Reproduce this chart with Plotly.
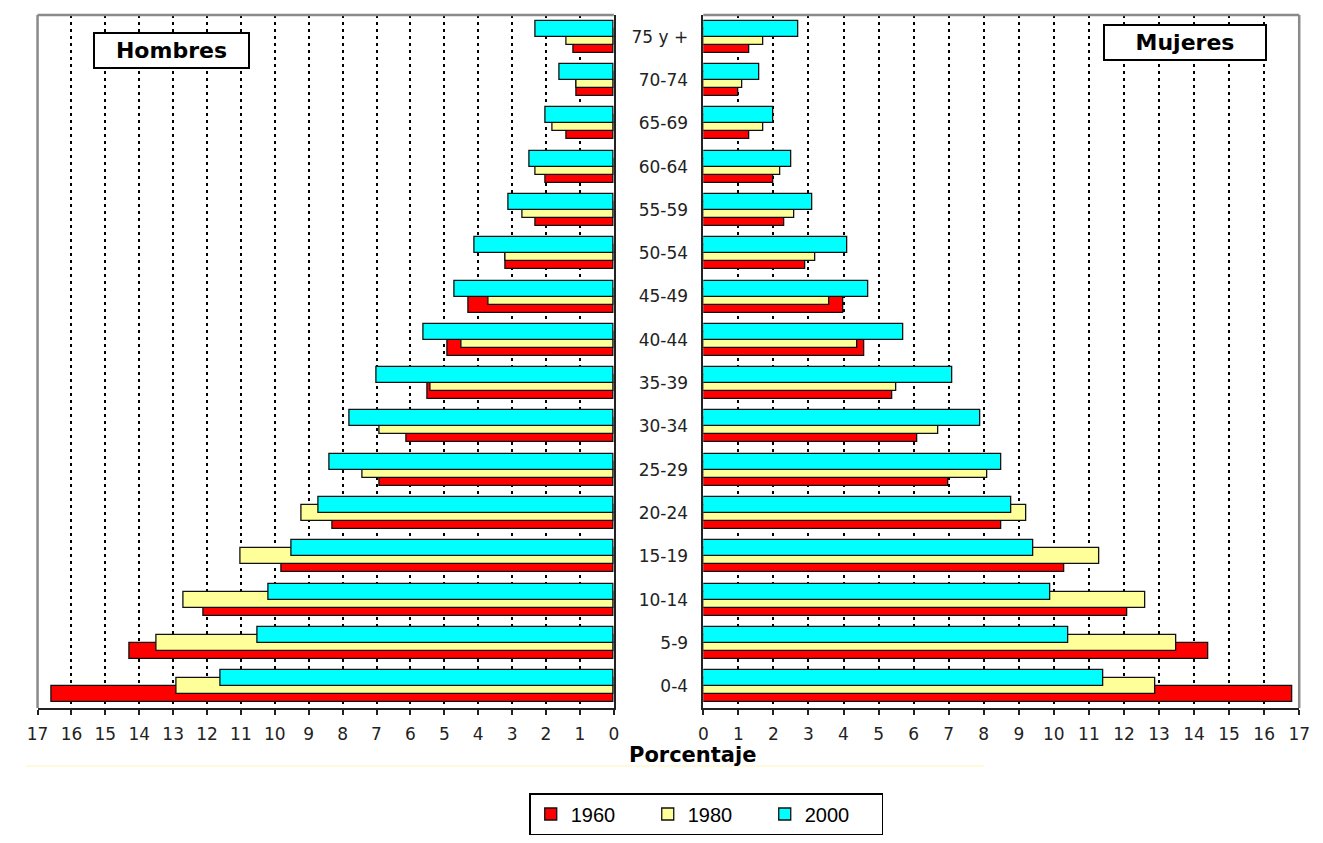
import plotly.graph_objects as go

categories = ['0-4', '5-9', '10-14', '15-19', '20-24', '25-29', '30-34', '35-39',
              '40-44', '45-49', '50-54', '55-59', '60-64', '65-69', '70-74', '75 y +']
years = ['1960', '1980', '2000']

men_1960 = [16.6, 14.3, 12.1, 9.8, 8.3, 6.9, 6.1, 5.5, 4.9, 4.3, 3.2, 2.3, 2.0, 1.4, 1.1, 1.2]
men_1980 = [12.9, 13.5, 12.7, 11.0, 9.2, 7.4, 6.9, 5.4, 4.5, 3.7, 3.2, 2.7, 2.3, 1.8, 1.1, 1.4]
men_2000 = [11.6, 10.5, 10.2, 9.5, 8.7, 8.4, 7.8, 7.0, 5.6, 4.7, 4.1, 3.1, 2.5, 2.0, 1.6, 2.3]

women_1960 = [16.8, 14.4, 12.1, 10.3, 8.5, 7.0, 6.1, 5.4, 4.6, 4.0, 2.9, 2.3, 2.0, 1.3, 1.0, 1.3]
women_1980 = [12.9, 13.5, 12.6, 11.3, 9.2, 8.1, 6.7, 5.5, 4.4, 3.6, 3.2, 2.6, 2.2, 1.7, 1.1, 1.7]
women_2000 = [11.4, 10.4, 9.9, 9.4, 8.8, 8.5, 7.9, 7.1, 5.7, 4.7, 4.1, 3.1, 2.5, 2.0, 1.6, 2.7]

tick_vals = list(range(0, 18))

colors = {'1960': '#FF0000', '1980': '#FFFF99', '2000': '#00FFFF'}
offsets = {'1960': -0.37, '1980': -0.185, '2000': 0.0}
bar_w = 0.37

men = {'1960': men_1960, '1980': men_1980, '2000': men_2000}
women = {'1960': women_1960, '1980': women_1980, '2000': women_2000}

W, H = 1323, 843

def px(v):
    return v / W

def py(v):
    return (H - v) / H

fig = go.Figure()
for yr in years:
    fig.add_trace(go.Bar(
        y=categories, x=men[yr], orientation='h', name=yr, legendgroup=yr,
        xaxis='x', yaxis='y', width=bar_w, offset=offsets[yr],
        marker=dict(color=colors[yr], line=dict(color='#111111', width=1.3)),
        showlegend=True))
for yr in years:
    fig.add_trace(go.Bar(
        y=categories, x=women[yr], orientation='h', name=yr, legendgroup=yr,
        xaxis='x2', yaxis='y2', width=bar_w, offset=offsets[yr],
        marker=dict(color=colors[yr], line=dict(color='#111111', width=1.3)),
        showlegend=False))

tickfont = dict(family='DejaVu Sans', size=17, color='#222222')
common_x = dict(tickmode='array', tickvals=tick_vals, ticktext=[str(v) for v in tick_vals],
                showgrid=True, gridcolor='#000000', gridwidth=2, griddash='3px,4px',
                showline=True, linecolor='#222222', linewidth=1.5,
                ticks='outside', ticklen=5, tickcolor='#222222', tickwidth=1.5,
                ticklabelstandoff=5, zeroline=False, tickfont=tickfont, fixedrange=True)

border = dict(color='#8a8a8a', width=2.5)

fig.update_layout(
    width=W, height=H,
    margin=dict(l=0, r=0, t=0, b=0),
    paper_bgcolor='white', plot_bgcolor='white',
    barmode='overlay',
    bargap=0,
    xaxis=dict(domain=[px(27), px(613)], range=[17, 0], anchor='y', **common_x),
    xaxis2=dict(domain=[px(704), px(1310)], range=[0, 17], anchor='y2', **common_x),
    yaxis=dict(domain=[py(708), py(15)], range=[-0.5, 15.5], anchor='x', side='right',
               type='category', categoryorder='array', categoryarray=categories,
               showticklabels=False, showgrid=False, zeroline=False,
               showline=True, linecolor='#222222', linewidth=1.5, ticks=''),
    yaxis2=dict(domain=[py(708), py(15)], range=[-0.5, 15.5], anchor='x2', side='left',
                type='category', categoryorder='array', categoryarray=categories,
                showticklabels=True, showgrid=False, zeroline=False,
                showline=True, linecolor='#222222', linewidth=1.5, ticks='',
                ticklabelstandoff=10, tickfont=tickfont),
    legend=dict(orientation='h', x=px(527), xanchor='left', y=py(793), yanchor='top',
                bordercolor='#000000', borderwidth=1.5, bgcolor='white',
                font=dict(family='Liberation Sans', size=20, color='#000000'),
                entrywidth=72, entrywidthmode='pixels', traceorder='normal'),
    shapes=[
        # left panel: top and outer (17) edges in gray
        dict(type='line', xref='x domain', yref='y domain', x0=0, x1=1, y0=1, y1=1,
             line=border, layer='above'),
        dict(type='line', xref='x domain', yref='y domain', x0=0, x1=0, y0=0, y1=1,
             line=border, layer='above'),
        # right panel: top and outer (17) edges in gray
        dict(type='line', xref='x2 domain', yref='y2 domain', x0=0, x1=1, y0=1, y1=1,
             line=border, layer='above'),
        dict(type='line', xref='x2 domain', yref='y2 domain', x0=1, x1=1, y0=0, y1=1,
             line=border, layer='above'),
        dict(type='line', xref='paper', yref='paper', x0=px(15), x1=px(990),
             y0=py(766), y1=py(766), line=dict(color='#FFF8CC', width=1.5)),
    ],
    annotations=[
        dict(text='<b>Hombres</b>', xref='paper', yref='paper', x=px(163.5), y=py(50.5),
             xanchor='center', yanchor='middle', showarrow=False,
             font=dict(family='DejaVu Sans', size=22, color='#000000'),
             bordercolor='#000000', borderwidth=2, borderpad=2, bgcolor='white',
             width=149, height=29),
        dict(text='<b>Mujeres</b>', xref='paper', yref='paper', x=px(1194), y=py(42.5),
             xanchor='center', yanchor='middle', showarrow=False,
             font=dict(family='DejaVu Sans', size=22, color='#000000'),
             bordercolor='#000000', borderwidth=2, borderpad=2, bgcolor='white',
             width=156, height=29),
        dict(text='<b>Porcentaje</b>', xref='paper', yref='paper', x=px(693), y=py(755),
             xanchor='center', yanchor='middle', showarrow=False,
             font=dict(family='DejaVu Sans', size=21, color='#000000')),
    ],
)

fig.write_html('out.html', config={'displayModeBar': False},
               post_script="document.body.style.margin='0px';document.body.style.overflow='hidden';")
